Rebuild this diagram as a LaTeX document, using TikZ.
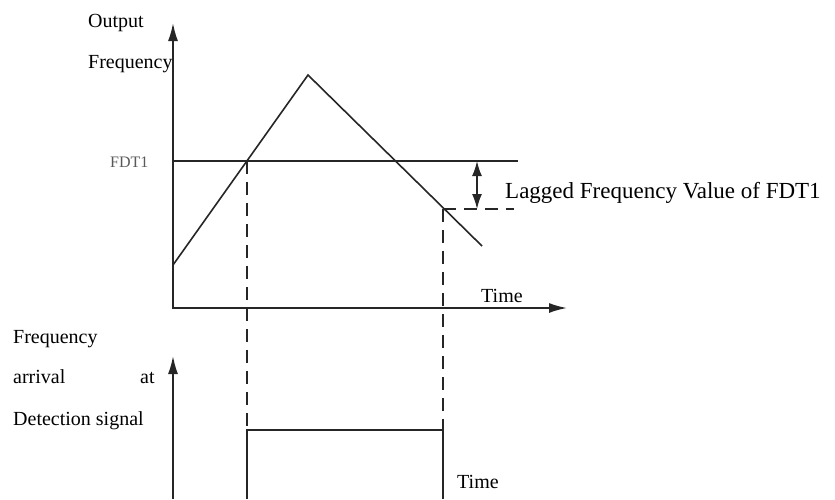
\documentclass[tikz,border=0pt]{standalone}
\usepackage{fontspec}
\setmainfont{Liberation Serif}
\usetikzlibrary{arrows.meta}
\begin{document}
\begin{tikzpicture}[x=1pt, y=-1pt,
  every node/.style={font=\fontsize{20}{24}\selectfont, inner sep=0pt, anchor=base west},
  axis/.style={line width=1.7pt, black!85},
  wave/.style={line width=1.6pt, black!85},
  guide/.style={line width=1.6pt, black!85, dash pattern=on 13pt off 8pt},
  tip/.tip={Latex[length=18pt,width=10pt]}]
  \useasboundingbox (0,0) rectangle (835,499);
  % upper plot: output frequency
  \coordinate (ytop) at (173,23);
  \coordinate (orig) at (173,308);
  \coordinate (xend) at (567,308);
  \coordinate (fdtA) at (173,161);
  \coordinate (fdtB) at (518,161);
  \coordinate (wstart) at (173,265);
  \coordinate (peak) at (308,75);
  \coordinate (wend) at (482,246);
  \coordinate (rise) at (247,161);
  \coordinate (fall) at (443,209);
  \coordinate (lagB) at (514,209);
  \coordinate (lagT) at (477,161);
  \coordinate (lagD) at (477,209);
  \draw[axis, tip-tip] (ytop) -- (orig) -- (xend);
  \draw[wave] (fdtA) -- (fdtB);
  \draw[wave] (wstart) -- (peak) -- (wend);
  \draw[guide] (fall) -- (lagB);
  \draw[wave, {Latex[length=15pt,width=10pt]}-{Latex[length=15pt,width=10pt]}] (lagT) -- (lagD);
  % lower plot: detection signal
  \coordinate (ybot) at (173,356);
  \coordinate (obot) at (173,499);
  \coordinate (pA) at (247,499);
  \coordinate (pB) at (247,430);
  \coordinate (pC) at (443,430);
  \coordinate (pD) at (443,499);
  \draw[axis, -tip] (obot) -- (ybot);
  \draw[wave] (pA) -- (pB) -- (pC) -- (pD);
  \draw[guide] (rise) -- (pB);
  \draw[guide] (fall) -- (pC);
  % labels
  \node (out) at (88,27) {Output};
  \node (outf) at (88,68) {Frequency};
  \node[font=\fontsize{16}{19}\selectfont, text=black!65] (fdt) at (110,167) {FDT1};
  \node[font=\fontsize{23}{27}\selectfont] (lag) at (505,198) {Lagged Frequency Value of FDT1};
  \node (time1) at (481,302) {Time};
  \node (time2) at (457,488) {Time};
  \node (sig1) at (13,343) {Frequency};
  \node (sig2) at (13,383) {arrival};
  \node (sig3) at (140,383) {at};
  \node (sig4) at (13,425) {Detection signal};
\end{tikzpicture}
\end{document}
